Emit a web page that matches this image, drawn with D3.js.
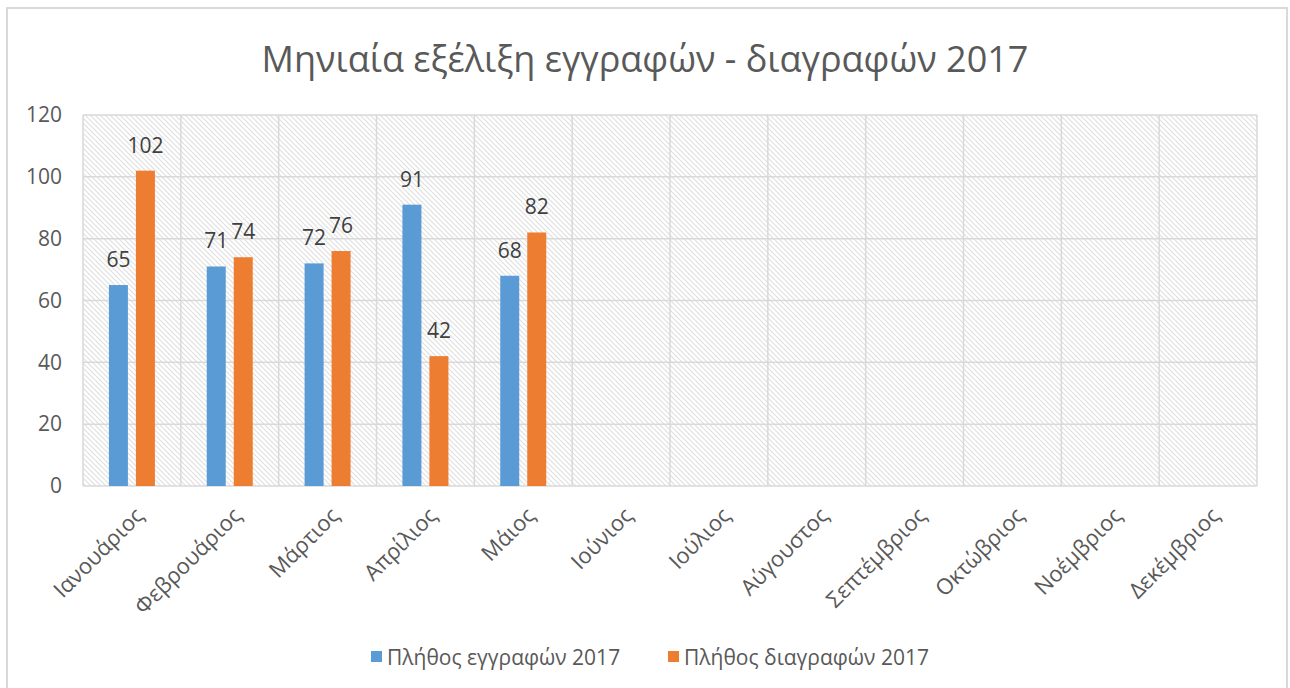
<!DOCTYPE html>
<html>
<head>
<meta charset="utf-8">
<script src="https://cdn.jsdelivr.net/npm/d3@7"></script>
<style>
  body { margin: 0; background: #fff; }
  text { font-family: "Open Sans", "Noto Sans", sans-serif; }
</style>
</head>
<body>
<div class="chart"></div>
<script>
var months = ["Ιανουάριος","Φεβρουάριος","Μάρτιος","Απρίλιος","Μάιος","Ιούνιος",
              "Ιούλιος","Αύγουστος","Σεπτέμβριος","Οκτώβριος","Νοέμβριος","Δεκέμβριος"];
var registrations = [65, 71, 72, 91, 68];
var deletions = [102, 74, 76, 42, 82];
var yTicks = [0, 20, 40, 60, 80, 100, 120];
var seriesNames = ["Πλήθος εγγραφών 2017", "Πλήθος διαγραφών 2017"];
var colors = ["#5B9BD5", "#ED7D31"];

var width = 1290, height = 688;
var plotL = 83, plotR = 1257, plotT = 115, plotB = 486;

var svg = d3.select(".chart").append("svg")
    .attr("width", width).attr("height", height);

// hatch pattern for plot area
var pat = svg.append("defs").append("pattern")
    .attr("id", "hatch").attr("patternUnits", "userSpaceOnUse")
    .attr("width", 5).attr("height", 5);
pat.append("rect").attr("width", 5).attr("height", 5).attr("fill", "#fff");
pat.append("path").attr("d", "M-1,-1 L6,6 M-1,4 L1,6 M4,-1 L6,1")
    .attr("stroke", "#e0e0e0").attr("stroke-width", 1.2);

// outer frame
svg.append("rect").attr("x", 7).attr("y", 8).attr("width", 1280).attr("height", 700)
    .attr("fill", "#fff").attr("stroke", "#d9d9d9").attr("stroke-width", 2);

var x = d3.scaleBand().domain(months).range([plotL, plotR]);
var y = d3.scaleLinear().domain([0, 120]).range([plotB, plotT]);

svg.append("rect").attr("x", plotL).attr("y", plotT)
    .attr("width", plotR - plotL).attr("height", plotB - plotT)
    .attr("fill", "url(#hatch)");

// horizontal gridlines
svg.append("g").selectAll("line").data(yTicks).enter().append("line")
    .attr("x1", plotL).attr("x2", plotR)
    .attr("y1", function(d){ return y(d); }).attr("y2", function(d){ return y(d); })
    .attr("stroke", "#d9d9d9").attr("stroke-width", 1.5);

// vertical gridlines at category boundaries
var bounds = months.map(function(m){ return x(m); }).concat([plotR]);
svg.append("g").selectAll("line").data(bounds).enter().append("line")
    .attr("x1", function(d){ return d; }).attr("x2", function(d){ return d; })
    .attr("y1", plotT).attr("y2", plotB)
    .attr("stroke", "#d9d9d9").attr("stroke-width", 1.5);

// y axis labels
var yAxis = d3.axisLeft(y).tickValues(yTicks).tickSize(0).tickPadding(21);
var ya = svg.append("g").attr("transform", "translate(" + plotL + ",0)").call(yAxis);
ya.select(".domain").remove();
ya.selectAll("text").attr("font-size", 21).attr("fill", "#595959")
    .style("font-family", "'Open Sans', sans-serif");

// bars
var barW = 19, gap = 8;
var series = [registrations, deletions];
series.forEach(function(vals, s){
  var g = svg.append("g");
  g.selectAll("rect").data(vals).enter().append("rect")
    .attr("x", function(d, i){ return x(months[i]) + x.bandwidth()/2 - gap/2 - barW + s*(barW + gap); })
    .attr("y", function(d){ return y(d); })
    .attr("width", barW)
    .attr("height", function(d){ return y(0) - y(d); })
    .attr("fill", colors[s]);
  g.selectAll("text").data(vals).enter().append("text")
    .attr("x", function(d, i){ return x(months[i]) + x.bandwidth()/2 - gap/2 - barW/2 + s*(barW + gap); })
    .attr("y", function(d){ return y(d) - 18; })
    .attr("text-anchor", "middle").attr("font-size", 21).attr("fill", "#404040")
    .text(function(d){ return d; });
});

// x axis labels
svg.append("g").selectAll("text").data(months).enter().append("text")
    .attr("transform", function(d){
      return "translate(" + (x(d) + x.bandwidth()/2 + 2) + "," + (plotB + 20) + ") rotate(-45)";
    })
    .attr("text-anchor", "end").attr("dy", "0.7em")
    .attr("font-size", 22).attr("fill", "#595959")
    .text(function(d){ return d; });

// title
svg.append("text").attr("x", 645).attr("y", 72).attr("text-anchor", "middle")
    .attr("font-size", 36).attr("fill", "#595959")
    .text("Μηνιαία εξέλιξη εγγραφών - διαγραφών 2017");

// legend
var legX = [371, 668];
seriesNames.forEach(function(n, i){
  svg.append("rect").attr("x", legX[i]).attr("y", 651).attr("width", 11).attr("height", 11)
    .attr("fill", colors[i]);
  svg.append("text").attr("x", legX[i] + 16).attr("y", 665)
    .attr("font-size", 21).attr("fill", "#595959").text(n);
});
</script>
</body>
</html>
